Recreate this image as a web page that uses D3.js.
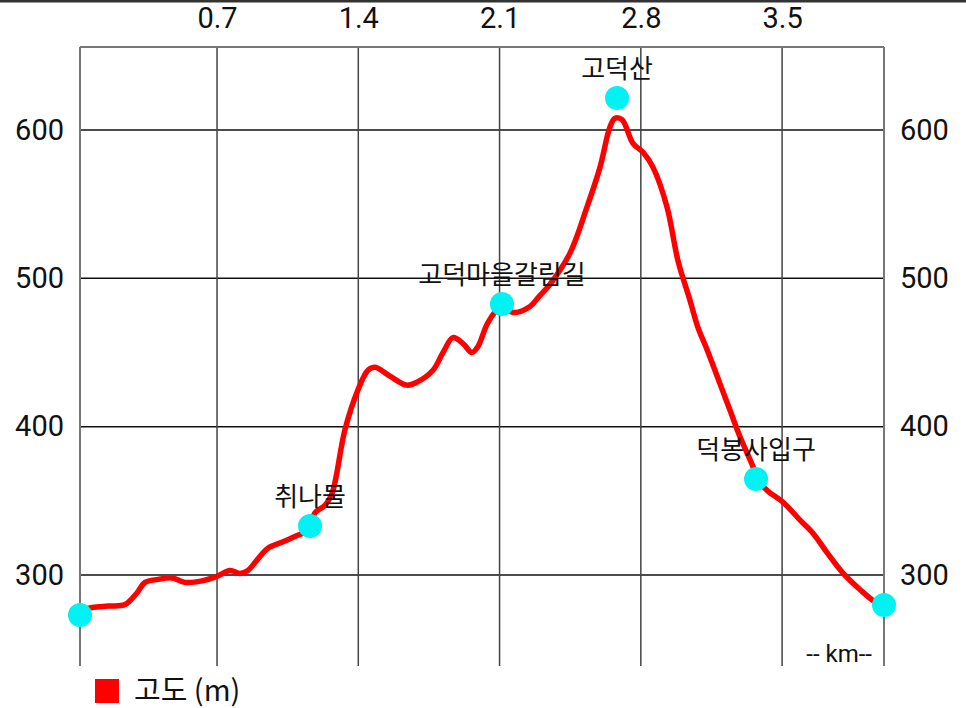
<!DOCTYPE html>
<html><head><meta charset="utf-8">
<script src="https://cdn.jsdelivr.net/npm/d3@7"></script>
<style>
html,body{margin:0;padding:0;background:#fff;}
svg{display:block;}
text{font-family:Roboto,"Noto Sans CJK KR",sans-serif;}
</style></head>
<body>
<script>
// ---- data ----
const distKm = [0.021,0.081,0.160,0.244,0.304,0.343,0.408,0.477,0.540,0.626,0.700,0.764,0.814,0.853,0.898,0.952,1.021,1.086,1.151,1.186,1.235,1.270,1.334,1.399,1.448,1.483,1.557,1.641,1.691,1.770,1.820,1.869,1.919,1.963,1.993,2.038,2.087,2.112,2.167,2.251,2.291,2.350,2.449,2.533,2.598,2.647,2.672,2.707,2.761,2.811,2.860,2.930,2.984,3.044,3.083,3.128,3.192,3.242,3.292,3.356,3.376,3.426,3.505,3.589,3.654,3.723,3.803,3.887,3.971,4.005];
const elevation = [276,278,279,280,288,295,297,298,295,296,299,303,301,303,310,318,322,326,330,342,347,355,398,425,438,440,434,428,430,438,450,460,456,450,454,469,479,482,477,481,487,496,517,548,575,602,608,607,591,585,575,548,512,485,467,452,429,411,393,373,365,357,349,337,328,315,301,290,281,280];
const waypointNames = ["", "취나물", "고덕마을갈림길", "고덕산", "덕봉사입구", ""];
const waypointKm = [0.021, 1.161, 2.112, 2.682, 3.371, 4.005];
const waypointElev = [273, 333, 482.7, 621.6, 364.7, 279.7];
const xTicks = [0.7, 1.4, 2.1, 2.8, 3.5];
const yTicks = [300, 400, 500, 600];
const legendLabel = "고도 (m)";
const xUnitLabel = "-- km--";

// ---- layout ----
const W = 966, H = 708;
const mL = 80, mR = 884, mT = 47, mB = 666;
const svg = d3.select("body").append("svg").attr("width", W).attr("height", H);

svg.append("rect").attr("x",0).attr("y",0).attr("width",W).attr("height",2.5).attr("fill","#333");

const x = d3.scaleLinear().domain([0.021, 4.005]).range([mL, mR]);
const y = d3.scaleLinear().domain([238.6, 656]).range([mB, mT]);

// horizontal grid
svg.append("g").selectAll("line").data(yTicks).join("line")
  .attr("x1", mL).attr("x2", mR)
  .attr("y1", d => y(d)).attr("y2", d => y(d))
  .attr("stroke", "#111").attr("stroke-width", 1.5);
// vertical grid
svg.append("g").selectAll("line").data(xTicks).join("line")
  .attr("x1", d => x(d)).attr("x2", d => x(d))
  .attr("y1", mT).attr("y2", mB)
  .attr("stroke", "#444").attr("stroke-width", 1.5);
// frame
svg.append("line").attr("x1", mL).attr("x2", mR).attr("y1", mT).attr("y2", mT).attr("stroke","#777").attr("stroke-width",2);
svg.append("line").attr("x1", mL).attr("x2", mL).attr("y1", mT).attr("y2", mB).attr("stroke","#777").attr("stroke-width",2);
svg.append("line").attr("x1", mR).attr("x2", mR).attr("y1", mT).attr("y2", mB).attr("stroke","#777").attr("stroke-width",2);

// axes labels (drawn with d3 axes, domain/ticks hidden)
const fs = 29;
const topAxis = svg.append("g").attr("transform", `translate(0,${mT})`)
  .call(d3.axisTop(x).tickValues(xTicks).tickFormat(d3.format(".1f")).tickSize(0).tickPadding(19));
const leftAxis = svg.append("g").attr("transform", `translate(${mL},0)`)
  .call(d3.axisLeft(y).tickValues(yTicks).tickFormat(d3.format("d")).tickSize(0).tickPadding(16));
const rightAxis = svg.append("g").attr("transform", `translate(${mR},0)`)
  .call(d3.axisRight(y).tickValues(yTicks).tickFormat(d3.format("d")).tickSize(0).tickPadding(16));
[topAxis, leftAxis, rightAxis].forEach(g => {
  g.select(".domain").remove();
  g.selectAll("text").attr("font-size", fs).attr("fill", "#111").style("font-family","Roboto");
});

// elevation line
const pts = distKm.map((d, i) => [d, elevation[i]]);
const line = d3.line().x(d => x(d[0])).y(d => y(d[1])).curve(d3.curveCatmullRom.alpha(0.5));
svg.append("path").datum(pts).attr("d", line)
  .attr("fill", "none").attr("stroke", "#f00").attr("stroke-width", 5.5)
  .attr("stroke-linejoin", "round").attr("stroke-linecap", "butt");

// waypoints
const wps = waypointKm.map((d, i) => ({km: d, el: waypointElev[i], name: waypointNames[i]}));
svg.append("g").selectAll("circle").data(wps).join("circle")
  .attr("cx", d => x(d.km)).attr("cy", d => y(d.el)).attr("r", 12).attr("fill", "#00f2f2");
svg.append("g").selectAll("text").data(wps.filter(d => d.name)).join("text")
  .attr("x", d => x(d.km)).attr("y", d => y(d.el) - 20)
  .attr("text-anchor", "middle").attr("font-size", 26).attr("fill", "#111")
  .style("font-family", "'Noto Sans CJK KR'")
  .text(d => d.name);

// unit label
svg.append("text").attr("x", mR - 12).attr("y", mB - 4)
  .attr("text-anchor", "end").attr("font-size", 24).attr("fill", "#111")
  .text(xUnitLabel);

// legend
svg.append("rect").attr("x", 95).attr("y", 679).attr("width", 24).attr("height", 24).attr("fill", "#f00");
svg.append("text").attr("x", 134).attr("y", 701).attr("font-size", 29).attr("fill", "#111")
  .style("font-family", "'Noto Sans CJK KR', Roboto")
  .text(legendLabel);
</script>
</body></html>
